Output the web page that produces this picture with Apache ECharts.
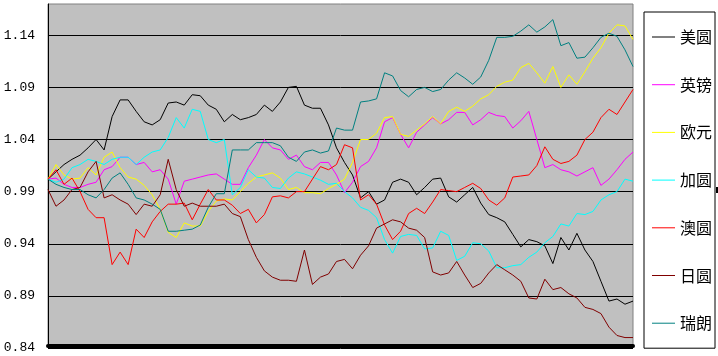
<!DOCTYPE html>
<html>
<head>
<meta charset="utf-8">
<script src="https://cdn.jsdelivr.net/npm/echarts@6/dist/echarts.min.js"></script>
<style>
html,body{margin:0;padding:0;background:#fff;}
#chart{width:718px;height:356px;}
</style>
</head>
<body>
<div id="chart"></div>
<script>
// Tick labels of the value axis
const yTicks = [0.84, 0.89, 0.94, 0.99, 1.04, 1.09, 1.14];
const seriesNames = ['美圆', '英镑', '欧元', '加圆', '澳圆', '日圆', '瑞朗'];
const seriesColors = ['#000000', '#FF00FF', '#FFFF00', '#00FFFF', '#FF0000', '#800000', '#008080'];

const usd = [1.002,1.009,1.016,1.021,1.025,1.032,1.040,1.030,1.062,1.078,
  1.078,1.067,1.057,1.054,1.059,1.075,1.076,1.073,1.083,1.082,
  1.073,1.069,1.057,1.064,1.059,1.061,1.064,1.073,1.067,1.076,
  1.090,1.091,1.073,1.070,1.070,1.054,1.032,1.018,1.006,0.984,
  0.990,0.978,0.982,0.999,1.002,0.999,0.987,0.994,1.002,1.003,
  0.985,0.980,0.987,0.994,0.979,0.968,0.965,0.961,0.949,0.937,
  0.944,0.942,0.938,0.921,0.946,0.934,0.950,0.934,0.923,0.904,
  0.885,0.887,0.882,0.885];
const gbp = [1.002,1.003,0.997,0.994,0.994,0.997,0.999,1.011,1.014,1.023,
  1.023,1.016,1.018,1.009,1.011,1.002,0.978,1.000,1.002,1.004,
  1.006,1.007,1.002,0.997,0.997,1.013,1.025,1.040,1.032,1.030,
  1.021,1.025,1.014,1.011,1.018,1.018,1.006,0.989,0.999,1.014,
  1.019,1.032,1.057,1.061,1.045,1.032,1.047,1.054,1.061,1.055,
  1.059,1.066,1.066,1.054,1.059,1.066,1.063,1.062,1.051,1.058,
  1.067,1.040,1.013,1.016,1.011,1.009,1.005,1.009,1.013,0.996,
  1.002,1.011,1.021,1.028];
const eur = [1.002,1.016,1.006,1.002,1.003,1.013,1.006,1.023,1.028,1.013,
  1.004,1.002,0.996,0.987,0.973,0.951,0.946,0.960,0.957,0.957,
  0.971,0.981,0.983,0.982,0.990,0.998,1.004,1.006,1.008,1.003,
  0.992,0.994,0.989,0.989,0.988,0.993,0.997,1.002,1.018,1.040,
  1.040,1.046,1.061,1.062,1.045,1.043,1.049,1.055,1.062,1.055,
  1.067,1.071,1.067,1.072,1.079,1.083,1.091,1.095,1.097,1.109,
  1.113,1.104,1.094,1.110,1.090,1.102,1.093,1.105,1.118,1.128,
  1.142,1.150,1.149,1.136];
const cad = [1.002,0.999,1.002,1.013,1.016,1.021,1.019,1.016,1.021,1.023,
  1.023,1.016,1.023,1.028,1.030,1.042,1.061,1.051,1.069,1.067,
  1.040,1.037,1.040,0.987,0.994,1.011,1.004,1.003,0.994,0.993,
  1.003,1.009,1.007,1.004,1.001,0.997,0.998,0.990,0.984,0.975,
  0.972,0.965,0.944,0.931,0.947,0.949,0.948,0.935,0.936,0.952,
  0.948,0.924,0.928,0.941,0.940,0.933,0.917,0.917,0.919,0.920,
  0.927,0.932,0.941,0.947,0.959,0.957,0.969,0.968,0.971,0.982,
  0.987,0.990,1.002,1.000];
const aud = [1.002,1.011,0.997,1.003,0.990,0.973,0.965,0.965,0.920,0.932,
  0.920,0.954,0.946,0.961,0.971,0.978,0.978,0.979,0.963,0.978,
  0.992,0.982,0.982,0.977,0.969,0.973,0.960,0.968,0.985,0.986,
  0.984,0.990,0.990,1.002,1.014,1.011,1.016,1.035,1.032,0.982,
  0.987,0.978,0.958,0.944,0.952,0.969,0.974,0.969,0.980,0.992,
  0.991,0.990,0.994,0.998,0.993,0.982,0.977,0.984,1.004,1.005,
  1.006,1.015,1.033,1.021,1.017,1.019,1.025,1.040,1.047,1.061,
  1.069,1.064,1.076,1.088];
const jpy = [0.992,0.976,0.982,0.992,0.994,1.009,1.019,0.984,0.987,0.982,
  0.978,0.968,0.978,0.976,0.987,1.021,0.992,0.976,0.979,0.976,
  0.976,0.976,0.978,0.969,0.966,0.944,0.927,0.914,0.908,0.905,
  0.905,0.904,0.934,0.901,0.908,0.911,0.923,0.925,0.916,0.929,
  0.938,0.955,0.959,0.963,0.961,0.955,0.953,0.946,0.913,0.910,
  0.912,0.923,0.910,0.898,0.902,0.912,0.920,0.915,0.910,0.904,
  0.888,0.887,0.906,0.896,0.898,0.892,0.888,0.879,0.877,0.873,
  0.860,0.852,0.850,0.850];
const chf = [1.002,0.997,0.994,0.992,0.992,0.987,0.984,0.992,1.003,1.008,
  0.997,0.984,0.982,0.978,0.973,0.952,0.952,0.953,0.954,0.958,
  0.975,0.988,0.988,1.030,1.030,1.030,1.037,1.037,1.037,1.034,
  1.023,1.019,1.028,1.030,1.027,1.029,1.051,1.049,1.049,1.076,
  1.077,1.079,1.104,1.101,1.087,1.081,1.088,1.090,1.086,1.088,
  1.097,1.104,1.099,1.093,1.100,1.116,1.138,1.138,1.139,1.144,
  1.150,1.143,1.148,1.155,1.130,1.133,1.118,1.119,1.128,1.138,
  1.142,1.139,1.126,1.110];

const seriesValues = [usd, gbp, eur, cad, aud, jpy, chf];
const categories = Array.from({length: usd.length}, (_, i) => String(i + 1));

const chart = echarts.init(document.getElementById('chart'), null, {renderer: 'canvas'});
chart.setOption({
  animation: false,
  backgroundColor: '#ffffff',
  grid: {
    left: 48, right: 85, top: 4, bottom: 8,
    show: true, backgroundColor: '#C0C0C0', borderColor: '#808080', borderWidth: 1
  },
  legend: {
    orient: 'vertical',
    left: 644, top: 12,
    padding: [17, 3, 17, 8],
    itemGap: 31.7,
    icon: 'rect',
    itemWidth: 23, itemHeight: 1,
    borderColor: '#000', borderWidth: 1,
    textStyle: {fontFamily: 'Noto Sans CJK SC', fontSize: 16, color: '#000', lineHeight: 16},
    data: seriesNames
  },
  xAxis: {
    type: 'category', data: categories, boundaryGap: false,
    offset: -2,
    axisLine: {show: true, onZero: false, lineStyle: {color: '#000', width: 4}},
    axisTick: {show: false}, axisLabel: {show: false}, splitLine: {show: false}
  },
  yAxis: {
    type: 'value', min: 0.84, max: 1.17,
    axisLine: {show: true, lineStyle: {color: '#000', width: 1}},
    axisTick: {show: false, customValues: yTicks},
    axisLabel: {
      customValues: yTicks, margin: 13,
      formatter: v => v.toFixed(2),
      fontFamily: 'Liberation Mono', fontSize: 13, color: '#000'
    },
    splitLine: {show: true, lineStyle: {color: '#000', width: 1}}
  },
  graphic: [{type: 'rect', left: 716, top: 187, shape: {width: 2, height: 6}, style: {fill: '#000'}}],
  series: seriesNames.map((name, i) => ({
    name: name, type: 'line', data: seriesValues[i],
    symbol: 'none', showSymbol: false,
    lineStyle: {color: seriesColors[i], width: 1},
    itemStyle: {color: seriesColors[i]}
  }))
});
</script>
</body>
</html>
